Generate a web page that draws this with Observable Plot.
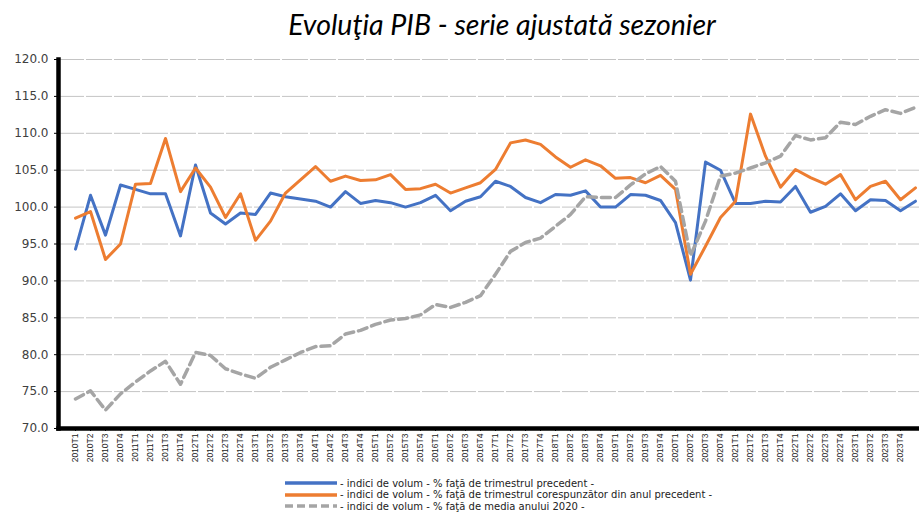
<!DOCTYPE html>
<html>
<head>
<meta charset="utf-8">
<script src="https://cdn.jsdelivr.net/npm/d3@7"></script>
<script src="https://cdn.jsdelivr.net/npm/@observablehq/plot@0.6"></script>
<style>
  html, body { margin: 0; padding: 0; background: #fff; }
  body { width: 919px; height: 514px; overflow: hidden; position: relative; }
  #title { height: 48px; line-height: 48px; text-align: center; padding-left: 85px; box-sizing: border-box;
           font-family: Lato, "Open Sans", sans-serif; font-style: italic; font-size: 28.5px; color: #000; white-space: nowrap; }
  #legend { position: absolute; left: 284px; top: 477.5px; font-family: "DejaVu Sans", sans-serif; font-size: 10px; color: #222; }
  .row { height: 11.6px; line-height: 11.6px; white-space: nowrap; display: flex; align-items: center; }
  .row svg { margin-right: 2px; }
</style>
</head>
<body>
<div id="title">Evoluţia PIB - serie ajustată sezonier</div>
<div id="chart"></div>
<div id="legend"></div>
<script>
const quarters = [
  "2010T1","2010T2","2010T3","2010T4","2011T1","2011T2","2011T3","2011T4",
  "2012T1","2012T2","2012T3","2012T4","2013T1","2013T2","2013T3","2013T4",
  "2014T1","2014T2","2014T3","2014T4","2015T1","2015T2","2015T3","2015T4",
  "2016T1","2016T2","2016T3","2016T4","2017T1","2017T2","2017T3","2017T4",
  "2018T1","2018T2","2018T3","2018T4","2019T1","2019T2","2019T3","2019T4",
  "2020T1","2020T2","2020T3","2020T4","2021T1","2021T2","2021T3","2021T4",
  "2022T1","2022T2","2022T3","2022T4","2023T1","2023T2","2023T3","2023T4",
  "2024T1"
];
// labels visible on the axis (the 2024T1 point lies beyond the cropped right edge)
const tickLabels = quarters.slice(0, 56);

// % faţă de trimestrul precedent
const qoq = [94.3,101.6,96.2,103.0,102.4,101.8,101.8,96.1,105.7,99.2,
  97.7,99.2,99.0,101.9,101.4,101.1,100.8,100.0,102.1,100.5,
  100.9,100.6,100.0,100.6,101.6,99.5,100.8,101.4,103.5,102.8,
  101.3,100.6,101.7,101.6,102.2,100.0,100.0,101.7,101.6,100.9,
  97.9,90.1,106.1,105.0,100.5,100.5,100.8,100.7,102.8,99.3,
  100.1,101.8,99.5,101.0,100.9,99.5,100.8];
// % faţă de trimestrul corespunzător din anul precedent
const yoy = [98.5,99.4,92.9,95.0,103.1,103.2,109.3,102.1,105.3,102.7,
  98.6,101.8,95.5,98.1,101.9,103.7,105.5,103.5,104.2,103.6,
  103.7,104.4,102.4,102.5,103.1,101.9,102.6,103.3,105.1,108.7,
  109.1,108.5,106.8,105.4,106.4,105.6,103.9,104.0,103.3,104.3,
  102.4,90.9,94.7,98.6,100.8,112.6,106.9,102.7,105.1,104.0,
  103.1,104.4,101.0,102.8,103.5,101.0,102.6];
// % faţă de media anului 2020
const vs2020 = [74.0,75.1,72.5,74.7,76.3,77.8,79.1,76.0,80.3,79.9,
  78.1,77.4,76.8,78.3,79.3,80.3,81.1,81.2,82.8,83.3,
  84.1,84.7,84.9,85.4,86.8,86.4,87.1,88.0,90.9,94.0,
  95.2,95.8,97.4,99.0,101.4,101.3,101.3,103.0,104.5,105.5,
  103.5,93.4,98.1,104.2,104.6,105.3,106.0,106.9,109.7,109.1,
  109.4,111.5,111.2,112.3,113.2,112.7,113.5];

const yTicks = [70,75,80,85,90,95,100,105,110,115,120];

const seriesNames = [
  "- indici de volum - % faţă de trimestrul precedent -",
  "- indici de volum - % faţă de trimestrul corespunzător din anul precedent -",
  "- indici de volum - % faţă de media anului 2020 -"
];
const colors = ["#4472C4", "#ED7D31", "#A5A5A5"];

const rows = (arr) => quarters.map((q, i) => ({q, v: arr[i]}));

const step = 15.3;
const x0 = 67;

const chart = Plot.plot({
  width: 919,
  height: 427,
  marginTop: 11,
  marginBottom: 47,
  marginLeft: 58,
  marginRight: 0,
  x: {type: "point", domain: quarters, range: [x0, x0 + step * (quarters.length - 1)]},
  y: {domain: [70, 120]},
  marks: [
    Plot.gridY(yTicks, {stroke: "#C4C4C4", strokeOpacity: 1, strokeWidth: 1, strokeDasharray: "26,2"}),
    Plot.lineY(rows(qoq), {x: "q", y: "v", stroke: colors[0], strokeWidth: 3}),
    Plot.lineY(rows(yoy), {x: "q", y: "v", stroke: colors[1], strokeWidth: 3}),
    Plot.lineY(rows(vs2020), {x: "q", y: "v", stroke: colors[2], strokeWidth: 3.5, strokeDasharray: "9,5"}),
    Plot.axisY(yTicks, {tickFormat: d3.format(".1f"), tickSize: 4, tickPadding: 6, fontSize: 12,
      fontFamily: "DejaVu Sans", fill: "#404040", stroke: "#000", label: null}),
    Plot.axisX(tickLabels, {tickRotate: -90, tickSize: 3, tickPadding: 2, fontSize: 8.5,
      fontFamily: "Liberation Sans", fill: "#222", stroke: "#000", label: null}),
    Plot.frame({anchor: "left", stroke: "#000", strokeWidth: 4.5}),
    Plot.frame({anchor: "bottom", stroke: "#000", strokeWidth: 4.5})
  ]
});
document.getElementById("chart").appendChild(chart);

const legend = document.getElementById("legend");
seriesNames.forEach((name, i) => {
  const row = document.createElement("div");
  row.className = "row";
  const dash = i === 2 ? 'stroke-dasharray="8,4"' : '';
  row.innerHTML = `<svg width="54" height="6"><line x1="1" y1="3" x2="53" y2="3" stroke="${colors[i]}" stroke-width="3.5" ${dash}/></svg><span>${name}</span>`;
  legend.appendChild(row);
});
</script>
</body>
</html>
